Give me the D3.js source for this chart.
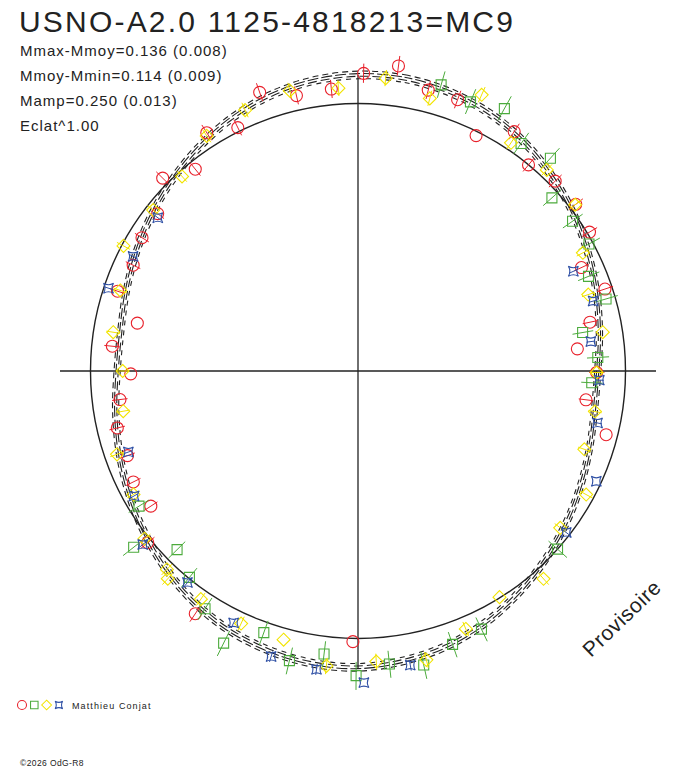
<!DOCTYPE html>
<html>
<head>
<meta charset="utf-8">
<script src="https://cdn.jsdelivr.net/npm/d3@7"></script>
<style>
  body { margin: 0; background: #fff; }
  svg text { font-family: "Liberation Sans", Arial, sans-serif; fill: #222; }
</style>
</head>
<body>
<div id="my_dataviz"></div>
<script>
// observations: [phase (0 = top, clockwise), mag - mean mag, error (optional)]
var redPts = [
  [0.946,-0.108],[0.965,-0.058],[0.985,-0.062],[0.003,-0.116],[0.021,-0.152],[0.039,-0.086],
  [0.056,-0.084],[0.074,0.017,0],[0.092,-0.072],[0.110,0.000],[0.128,-0.025],[0.146,-0.027],
  [0.164,-0.010],[0.181,0.090],[0.199,0.030],[0.217,0.131],[0.234,0.210,0],[0.251,0.124],
  [0.270,0.165],[0.290,0.047,0],[0.503,-0.013,0],[0.594,-0.096],[0.641,-0.016],[0.658,0.085],
  [0.677,0.071],[0.694,0.093],[0.713,0.085],[0.731,0.119],[0.748,0.177,0],[0.766,0.087],
  [0.784,0.184,0],[0.801,0.059],[0.820,0.080],[0.838,0.057],[0.856,0.053],[0.874,-0.028],
  [0.892,0.034],[0.910,-0.058],[0.927,-0.016]
];
var greenPts = [
  [0.045,-0.117],[0.063,-0.094],[0.081,-0.126],[0.099,-0.049],[0.117,-0.076],[0.134,0.031],
  [0.153,0.024],[0.170,0.016],[0.188,0.077],[0.205,0.038],[0.223,0.174],[0.241,0.117],
  [0.258,0.145],[0.366,0.000],[0.429,-0.073],[0.447,-0.085],[0.465,-0.129],[0.483,-0.105],
  [0.501,-0.141],[0.519,-0.069],[0.537,-0.116],[0.555,-0.042],[0.573,-0.137],[0.591,-0.060],
  [0.609,0.004],[0.626,0.055],[0.644,-0.070],[0.662,0.042]
];
var yellowPts = [
  [0.935,-0.066],[0.962,-0.082],[0.989,-0.063],[0.015,-0.103],[0.041,-0.057],[0.067,-0.134],
  [0.094,-0.029],[0.120,-0.033],[0.146,-0.024],[0.173,0.056],[0.199,0.106],[0.225,0.083,0],
  [0.251,0.124],[0.277,0.116],[0.303,0.120],[0.329,0.033],[0.355,0.048],[0.384,-0.044],
  [0.411,0.003,0],[0.437,-0.048],[0.463,-0.113],[0.490,-0.092],[0.517,-0.112],[0.543,-0.045,0],
  [0.569,-0.043],[0.596,-0.038],[0.618,-0.056],[0.622,-0.032],[0.644,-0.016],[0.670,0.047],
  [0.697,0.052],[0.723,0.126],[0.750,0.139],[0.775,0.083],[0.802,0.069],[0.828,0.007],
  [0.856,0.029],[0.883,0.021],[0.909,-0.048]
];
var bluePts = [
  [0.181,0.130],[0.204,0.094],[0.230,0.142],[0.256,0.111],[0.284,0.095],[0.319,0.020,0],
  [0.355,0.016],[0.472,-0.120],[0.497,-0.166,0],[0.522,-0.129],[0.547,-0.119],[0.573,-0.053],
  [0.608,-0.017],[0.642,-0.036],[0.669,0.046],[0.696,0.102],[0.801,0.019],[0.825,0.063],
  [0.854,0.064]
];

// fitted light curve
var modelPhase = [0,0.025,0.05,0.075,0.1,0.125,0.15,0.175,0.2,0.225,0.25,0.275,0.3,0.325,0.35,0.375,0.4,0.425,0.45,0.475,
                  0.5,0.525,0.55,0.575,0.6,0.625,0.65,0.675,0.7,0.725,0.75,0.775,0.8,0.825,0.85,0.875,0.9,0.925,0.95,0.975];
var modelMag = [-0.110,-0.110,-0.101,-0.085,-0.060,-0.029,0.004,0.038,0.070,0.098,0.119,0.120,0.101,0.073,0.041,0.008,-0.025,-0.057,-0.083,-0.100,
                -0.111,-0.109,-0.099,-0.084,-0.060,-0.030,0.003,0.036,0.067,0.094,0.114,0.116,0.098,0.071,0.040,0.007,-0.026,-0.058,-0.084,-0.101];
var modelBand = [-0.014,-0.005,0.005,0.014];

var titleText = "USNO-A2.0 1125-4818213=MC9";
var statLines = ["Mmax-Mmoy=0.136 (0.008)", "Mmoy-Mmin=0.114 (0.009)", "Mamp=0.250 (0.013)", "Eclat^1.00"];
var observer = "Matthieu Conjat";
var credit = "\u00a92026 OdG-R8";

var width = 688, height = 768,
    cx = 358, cy = 371,
    R0 = 267.5, axisLen = 298;

var svg = d3.select("#my_dataviz")
  .append("svg")
    .attr("width", width)
    .attr("height", height);

svg.append("rect").attr("width", width).attr("height", height).attr("fill", "#fff");

// radius is proportional to flux^1
var r = d3.scalePow().exponent(1).domain([0, 1]).range([0, R0]);
function rad(dm) { return r(Math.pow(10, -0.4 * dm)); }
function ang(p) { return p * 2 * Math.PI; }

var g = svg.append("g").attr("transform", "translate(" + cx + "," + cy + ")");

// axes
g.append("line").attr("x1", -axisLen).attr("x2", axisLen).attr("y1", 0).attr("y2", 0)
  .attr("stroke", "#222").attr("stroke-width", 1.3);
g.append("line").attr("x1", 0).attr("x2", 0).attr("y1", -axisLen + 2).attr("y2", axisLen - 1)
  .attr("stroke", "#222").attr("stroke-width", 1.3);

// mean magnitude circle
g.append("circle").attr("r", rad(0)).attr("fill", "none")
  .attr("stroke", "#222").attr("stroke-width", 1.4);

// model curve and its band
var model = modelPhase.map(function(p, i) { return [p, modelMag[i]]; });
var dashes = ["6,4", "11,3", "9,4", "5,5"];
modelBand.forEach(function(off, k) {
  var line = d3.lineRadial()
    .angle(function(d) { return ang(d[0]); })
    .radius(function(d) { return rad(d[1] + off); })
    .curve(d3.curveCardinalClosed);
  g.append("path")
    .attr("d", line(model))
    .attr("fill", "none")
    .attr("stroke", "#222")
    .attr("stroke-width", 1.1)
    .attr("stroke-dasharray", dashes[k])
    .attr("stroke-dashoffset", k * 3);
});

var series = [
  {pts: redPts, color: "#e8212b", err: 0.035, shape: "circle"},
  {pts: greenPts, color: "#4cab3c", err: 0.05, shape: "square"},
  {pts: yellowPts, color: "#f2e400", err: 0.03, shape: "diamond"},
  {pts: bluePts, color: "#2f50a5", err: 0.02, shape: "star"}
];

var shapes = {
  circle: "M6,0A6,6 0 1,1 -6,0A6,6 0 1,1 6,0Z",
  square: "M-5,-5H5V5H-5Z",
  diamond: "M0,-6.5L6.5,0L0,6.5L-6.5,0Z",
  star: "M-5,-5Q0,-2 5,-5Q2,0 5,5Q0,2 -5,5Q-2,0 -5,-5Z"
};

series.forEach(function(s) {
  var grp = g.append("g");
  // radial error bars
  grp.selectAll("line")
    .data(s.pts)
    .enter()
    .append("line")
      .each(function(d) {
        var e = d.length > 2 ? d[2] : s.err;
        var a = d3.pointRadial(ang(d[0]), rad(d[1] - e)),
            b = d3.pointRadial(ang(d[0]), rad(d[1] + e));
        d3.select(this).attr("x1", a[0]).attr("y1", a[1]).attr("x2", b[0]).attr("y2", b[1]);
      })
      .attr("stroke", s.color)
      .attr("stroke-width", 1);
  grp.selectAll("path")
    .data(s.pts)
    .enter()
    .append("path")
      .attr("d", shapes[s.shape])
      .attr("transform", function(d) {
        var p = d3.pointRadial(ang(d[0]), rad(d[1]));
        return "translate(" + p[0] + "," + p[1] + ")";
      })
      .attr("fill", "none")
      .attr("stroke", s.color)
      .attr("stroke-width", 1.1);
});

// texts
svg.append("text").attr("x", 19).attr("y", 32)
  .style("font-size", "30px").style("letter-spacing", "2.2px").text(titleText);

svg.selectAll(".stat")
  .data(statLines)
  .enter()
  .append("text")
    .attr("x", 20)
    .attr("y", function(d, i) { return 56 + i * 25; })
    .style("font-size", "15px")
    .style("letter-spacing", "1px")
    .text(function(d) { return d; });

svg.append("text")
  .attr("transform", "translate(591,658) rotate(-44)")
  .style("font-size", "21px")
  .style("letter-spacing", "0.6px")
  .text("Provisoire");

// legend
var leg = svg.append("g").attr("transform", "translate(0,705)");
series.forEach(function(s, i) {
  leg.append("path")
    .attr("d", shapes[s.shape])
    .attr("transform", "translate(" + (22 + i * 12.3) + ",0) scale(0.75)")
    .attr("fill", "none")
    .attr("stroke", s.color)
    .attr("stroke-width", 1.4);
});
leg.append("text").attr("x", 72).attr("y", 4)
  .style("font-size", "9px").style("letter-spacing", "1.1px").text(observer);

svg.append("text").attr("x", 20).attr("y", 766)
  .style("font-size", "8.5px").style("letter-spacing", "0.4px").text(credit);
</script>
</body>
</html>
